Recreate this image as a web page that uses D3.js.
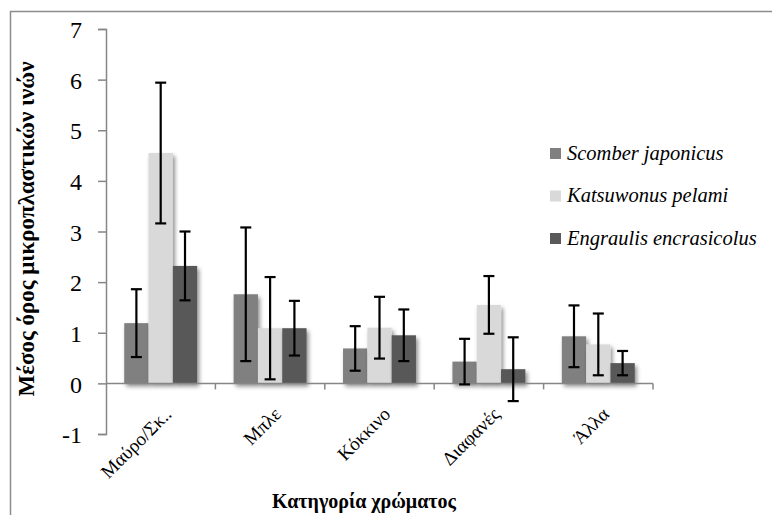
<!DOCTYPE html>
<html>
<head>
<meta charset="utf-8">
<script src="https://cdn.jsdelivr.net/npm/d3@7"></script>
<style>
  body { margin: 0; background: #fff; }
  text { font-family: "Liberation Serif", "DejaVu Serif", serif; }
</style>
</head>
<body>
<div id="main"></div>
<script>
const categories = ["Μαύρο/Σκ..", "Μπλε", "Κόκκινο", "Διαφανές", "Άλλα"];
const seriesNames = ["Scomber japonicus", "Katsuwonus pelami", "Engraulis encrasicolus"];
const seriesColors = ["#808080", "#d9d9d9", "#595959"];
// mean values per series (one entry per category)
const scomberMeans = [1.19, 1.76, 0.69, 0.43, 0.93];
const katsuwonusMeans = [4.55, 1.09, 1.10, 1.55, 0.77];
const engraulisMeans = [2.32, 1.09, 0.95, 0.28, 0.40];
// error bar half-widths
const scomberErr = [0.67, 1.32, 0.44, 0.45, 0.61];
const katsuwonusErr = [1.39, 1.01, 0.61, 0.57, 0.61];
const engraulisErr = [0.68, 0.54, 0.51, 0.63, 0.24];
const yTicks = [-1, 0, 1, 2, 3, 4, 5, 6, 7];

const ctx = { w: 772, h: 515 };

function createChart(svgEl) {
    const left = 106, right = 653, top = 29, bottom = 434;
    const means = [scomberMeans, katsuwonusMeans, engraulisMeans];
    const errs = [scomberErr, katsuwonusErr, engraulisErr];

    const defs = svgEl.append("defs");
    const f = defs.append("filter").attr("id", "shadow")
        .attr("x", "-30%").attr("y", "-30%").attr("width", "160%").attr("height", "160%");
    f.append("feDropShadow").attr("dx", 2).attr("dy", 3)
        .attr("stdDeviation", 2).attr("flood-color", "#000").attr("flood-opacity", 0.45);

    // chart frame (top and left edges only visible)
    svgEl.append("path")
        .attr("d", `M10.5,${ctx.h} V11.5 H${ctx.w}`)
        .attr("fill", "none").attr("stroke", "#8c8c8c").attr("stroke-width", 1.5);

    const x = d3.scaleBand().domain(categories).range([left, right]);
    const y = d3.scaleLinear().domain([-1, 7]).range([bottom, top]);
    const bw = x.bandwidth() / 4.5;

    // y axis
    const yAxis = svgEl.append("g").attr("transform", `translate(${left},0)`)
        .call(d3.axisLeft(y).tickValues(yTicks).tickSize(8).tickPadding(16).tickFormat(d => String(d)));
    yAxis.select(".domain").attr("stroke", "#868686").attr("stroke-width", 1.5);
    yAxis.selectAll(".tick line").attr("stroke", "#868686").attr("stroke-width", 1.5);
    yAxis.selectAll(".tick text").attr("font-size", 24).attr("fill", "#000")
        .attr("font-family", "Liberation Serif").attr("dy", "0.36em");

    // bars
    seriesNames.forEach((s, i) => {
        svgEl.append("g").attr("filter", "url(#shadow)")
            .selectAll("rect").data(categories).enter().append("rect")
            .attr("x", c => x(c) + bw * 0.75 + i * bw)
            .attr("width", bw)
            .attr("y", (c, j) => y(Math.max(0, means[i][j])))
            .attr("height", (c, j) => Math.abs(y(means[i][j]) - y(0)))
            .attr("fill", seriesColors[i]);
    });

    // x axis at zero
    const xg = svgEl.append("g").attr("transform", `translate(0,${y(0)})`);
    xg.append("line").attr("x1", left).attr("x2", right)
        .attr("stroke", "#868686").attr("stroke-width", 1.5);
    xg.selectAll(".ctick").data(categories.slice(1).map(c => x(c)).concat([right]))
        .enter().append("line")
        .attr("x1", d => d).attr("x2", d => d).attr("y1", 0).attr("y2", 6)
        .attr("stroke", "#868686").attr("stroke-width", 1.5);

    // error bars
    seriesNames.forEach((s, i) => {
        const g = svgEl.append("g");
        categories.forEach((c, j) => {
            const cx = x(c) + bw * 0.75 + i * bw + bw / 2;
            const hi = y(means[i][j] + errs[i][j]), lo = y(means[i][j] - errs[i][j]);
            g.append("line").attr("x1", cx).attr("x2", cx).attr("y1", hi).attr("y2", lo)
                .attr("stroke", "#000").attr("stroke-width", 2.2);
            [hi, lo].forEach(v => g.append("line")
                .attr("x1", cx - 5.5).attr("x2", cx + 5.5).attr("y1", v).attr("y2", v)
                .attr("stroke", "#000").attr("stroke-width", 2.2));
        });
    });

    // category labels, rotated
    svgEl.append("g").selectAll("text").data(categories).enter().append("text")
        .attr("transform", c => `translate(${x(c) + x.bandwidth() / 2 + 12},${y(0) + 32}) rotate(-45)`)
        .attr("text-anchor", "end")
        .attr("font-size", 19)
        .text(c => c);

    // axis titles
    svgEl.append("text")
        .attr("transform", `translate(34,229) rotate(-90)`)
        .attr("text-anchor", "middle").attr("font-weight", "bold").attr("font-size", 23)
        .text("Μέσος όρος μικροπλαστικών ινών");
    svgEl.append("text")
        .attr("x", 364).attr("y", 508)
        .attr("text-anchor", "middle").attr("font-weight", "bold").attr("font-size", 20)
        .text("Κατηγορία χρώματος");

    // legend
    const lg = svgEl.append("g").attr("transform", "translate(550,148)");
    seriesNames.forEach((s, i) => {
        const row = lg.append("g").attr("transform", `translate(0,${i * 42.5})`);
        row.append("rect").attr("width", 11).attr("height", 11).attr("fill", seriesColors[i]);
        row.append("text").attr("x", 17).attr("y", 11.5).attr("font-style", "italic")
            .attr("font-size", 20.5).text(s);
    });
}

function createViz() {
    const svgEl = d3.select("#main").append("svg")
        .attr("width", ctx.w)
        .attr("height", ctx.h);
    createChart(svgEl);
}
createViz();
</script>
</body>
</html>
